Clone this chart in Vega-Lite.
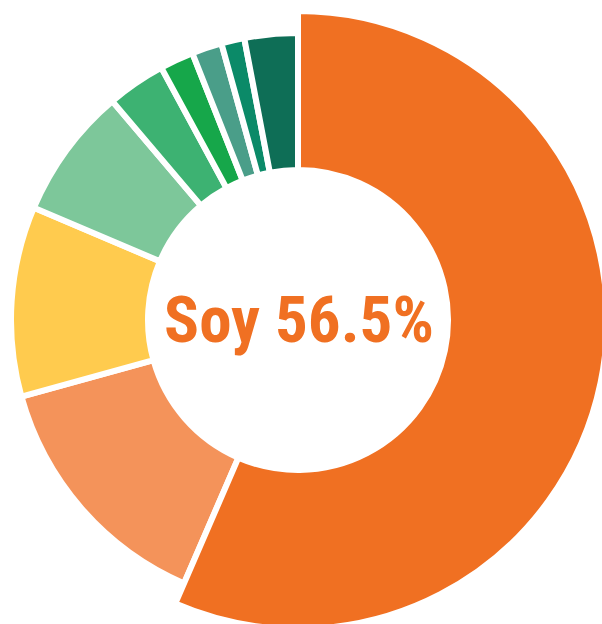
{
  "$schema": "https://vega.github.io/schema/vega-lite/v6.json",
  "autosize": "none",
  "width": 596,
  "height": 600,
  "padding": {"left": 0, "top": 20, "right": 6, "bottom": 4},
  "background": "white",
  "view": {"stroke": null},
  "datasets": {
    "slices": [
      {"crop": "Soy", "share": 56.5, "rank": 1},
      {"crop": "Slice 2", "share": 14.2, "rank": 2},
      {"crop": "Slice 3", "share": 10.7, "rank": 3},
      {"crop": "Slice 4", "share": 7.4, "rank": 4},
      {"crop": "Slice 5", "share": 3.3, "rank": 5},
      {"crop": "Slice 6", "share": 1.9, "rank": 6},
      {"crop": "Slice 7", "share": 1.7, "rank": 7},
      {"crop": "Slice 8", "share": 1.3, "rank": 8},
      {"crop": "Slice 9", "share": 3.0, "rank": 9}
    ]
  },
  "layer": [
    {
      "data": {"name": "slices"},
      "mark": {"type": "arc", "innerRadius": 150, "outerRadius": 287, "stroke": "white", "strokeWidth": 6},
      "encoding": {
        "theta": {"field": "share", "type": "quantitative", "stack": true},
        "order": {"field": "rank", "type": "quantitative"},
        "color": {
          "field": "crop", "type": "nominal", "legend": null,
          "scale": {
            "domain": ["Soy", "Slice 2", "Slice 3", "Slice 4", "Slice 5", "Slice 6", "Slice 7", "Slice 8", "Slice 9"],
            "range": ["#F07022", "#F4935A", "#FFCB4E", "#7DC79A", "#3DB272", "#16A74A", "#4A9E89", "#0B8A68", "#0E6E56"]
          }
        }
      }
    },
    {
      "data": {"name": "slices"},
      "mark": {"type": "arc", "innerRadius": 150, "outerRadius": 309, "stroke": "white", "strokeWidth": 6},
      "encoding": {
        "theta": {"field": "share", "type": "quantitative", "stack": true},
        "order": {"field": "rank", "type": "quantitative"},
        "color": {
          "field": "crop", "type": "nominal", "legend": null,
          "scale": {
            "domain": ["Soy", "Slice 2", "Slice 3", "Slice 4", "Slice 5", "Slice 6", "Slice 7", "Slice 8", "Slice 9"],
            "range": ["#F07022", "#F4935A", "#FFCB4E", "#7DC79A", "#3DB272", "#16A74A", "#4A9E89", "#0B8A68", "#0E6E56"]
          }
        },
        "opacity": {"condition": {"test": "datum.crop === 'Soy'", "value": 1}, "value": 0}
      }
    },
    {
      "data": {"values": [{"label": "Soy 56.5%"}]},
      "mark": {"type": "text", "font": "Roboto Condensed, Noto Sans Condensed, Roboto", "fontWeight": "bold", "fontSize": 65, "color": "#F07022", "align": "center", "baseline": "middle", "dx": 1, "dy": 2},
      "encoding": {"text": {"field": "label", "type": "nominal"}}
    }
  ]
}
